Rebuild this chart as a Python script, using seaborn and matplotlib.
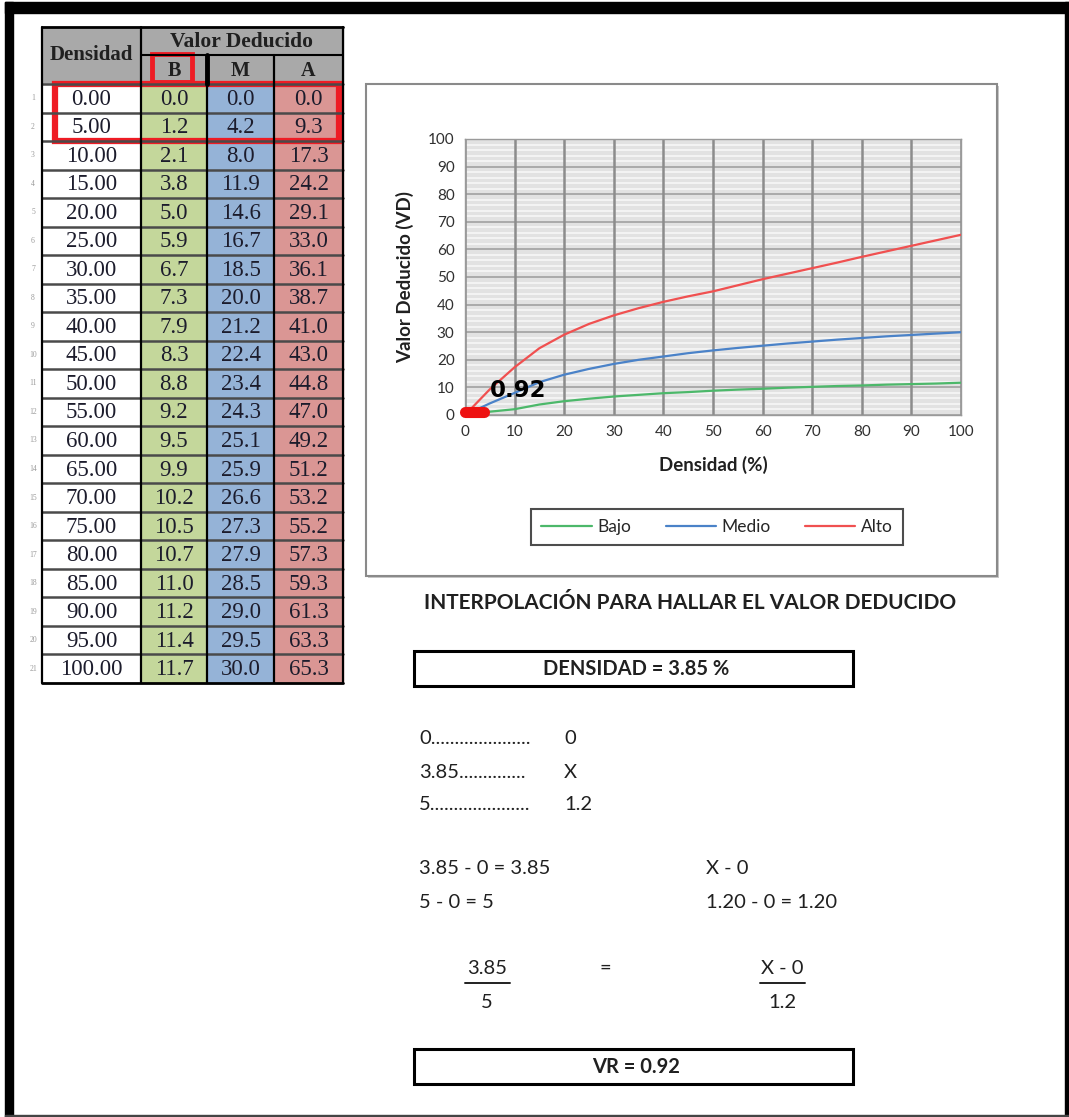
import numpy as np
import pandas as pd
import matplotlib
matplotlib.use("Agg")
import matplotlib.pyplot as plt
import seaborn as sns
from matplotlib.patches import Rectangle

# table / chart data
densidad = [0, 5, 10, 15, 20, 25, 30, 35, 40, 45, 50, 55, 60, 65, 70, 75, 80, 85, 90, 95, 100]
bajo = [0.0, 1.2, 2.1, 3.8, 5.0, 5.9, 6.7, 7.3, 7.9, 8.3, 8.8, 9.2, 9.5, 9.9, 10.2, 10.5, 10.7, 11.0, 11.2, 11.4, 11.7]
medio = [0.0, 4.2, 8.0, 11.9, 14.6, 16.7, 18.5, 20.0, 21.2, 22.4, 23.4, 24.3, 25.1, 25.9, 26.6, 27.3, 27.9, 28.5, 29.0, 29.5, 30.0]
alto = [0.0, 9.3, 17.3, 24.2, 29.1, 33.0, 36.1, 38.7, 41.0, 43.0, 44.8, 47.0, 49.2, 51.2, 53.2, 55.2, 57.3, 59.3, 61.3, 63.3, 65.3]
series_names = ["Bajo", "Medio", "Alto"]
series_colors = ["#4cb86a", "#4a82c8", "#f05050"]

# interpolation result
dens_input = 3.85
vr_value = 0.92
vr_x = [0, 3.85]
vr_y = [0.92, 0.92]

sns.set_style("white")
plt.rcParams['font.family'] = ['Lato', 'DejaVu Sans']

W, H = 1069, 1117
fig = plt.figure(figsize=(W / 100, H / 100), dpi=100)

# background axes in pixel coordinates
bg = fig.add_axes([0, 0, 1, 1], zorder=0)
bg.set_xlim(0, W)
bg.set_ylim(H, 0)
bg.axis("off")

# outer frame
bg.add_patch(Rectangle((5, 2), W - 5, 11, color="black"))
bg.add_patch(Rectangle((5, 2), 8, H - 2, color="black"))
bg.add_patch(Rectangle((W - 4, 2), 4, H - 2, color="black"))
bg.add_patch(Rectangle((5, H - 2), W - 5, 2, color="#444444"))

# ---- table ----
col_x = [42, 141, 207, 274, 343]
col_fill = ["white", "#c4d79b", "#95b3d7", "#da9694"]
top, mid, hbot = 27, 55, 84
row_h = 28.52
serif = "Liberation Serif"
header_grey = "#a9a9a9"

bg.add_patch(Rectangle((col_x[0], top), col_x[4] - col_x[0], hbot - top, color=header_grey))
for i, d in enumerate(densidad):
    y0 = hbot + i * row_h
    vals = [f"{d:.2f}", f"{bajo[i]:.1f}", f"{medio[i]:.1f}", f"{alto[i]:.1f}"]
    for c in range(4):
        bg.add_patch(Rectangle((col_x[c], y0), col_x[c + 1] - col_x[c], row_h, color=col_fill[c]))
        bg.text((col_x[c] + col_x[c + 1]) / 2, y0 + row_h / 2 + 1, vals[c], ha="center", va="center",
                fontsize=16.5, family=serif, color="#1c1c2c")
    bg.text(33, y0 + row_h / 2, str(i + 1), ha="center", va="center", fontsize=5.5, family=serif, color="#9a9a9a")
    bg.plot([col_x[0], col_x[4]], [y0, y0], color="#4a4a4a", lw=1.8)
bot = hbot + len(densidad) * row_h
bg.plot([col_x[0], col_x[4]], [bot, bot], color="black", lw=2)
bg.plot([col_x[0], col_x[4]], [top, top], color="black", lw=2)
bg.plot([col_x[1], col_x[4]], [mid, mid], color="black", lw=1.5)
for c, xx in enumerate(col_x):
    bg.plot([xx, xx], [top if c in (0, 1, 4) else mid, bot], color="black", lw=1.6)
bg.plot([col_x[2], col_x[2]], [mid, hbot], color="black", lw=3.5)

bg.text((col_x[0] + col_x[1]) / 2, (top + hbot) / 2, "Densidad", ha="center", va="center",
        fontsize=15, family=serif, weight="bold", color="#202020")
bg.text((col_x[1] + col_x[4]) / 2, (top + mid) / 2 + 1, "Valor Deducido", ha="center", va="center",
        fontsize=15.5, family=serif, weight="bold", color="#202020")
for c, lab in zip(range(1, 4), ["B", "M", "A"]):
    bg.text((col_x[c] + col_x[c + 1]) / 2, (mid + hbot) / 2 + 1, lab, ha="center", va="center",
            fontsize=14.5, family=serif, weight="bold", color="#202020")

# red highlight boxes
bg.add_patch(Rectangle((152, 54), 40, 28, fill=False, edgecolor="#ee1c24", lw=3.5))
bg.add_patch(Rectangle((55, 84), 284, 57, fill=False, edgecolor="#ee1c24", lw=4.5))

# ---- chart box ----
bg.add_patch(Rectangle((368, 86), 631, 492, facecolor="#c8c8c8", edgecolor="none"))
bg.add_patch(Rectangle((366, 84), 631, 492, facecolor="white", edgecolor="#8a8a8a", lw=1.5))

ax = fig.add_axes([465 / W, 1 - 415 / H, 496 / W, 276 / H], zorder=2)
ax.set_facecolor("#e2e2e2")

long_df = pd.DataFrame({
    "Densidad": densidad * 3,
    "VD": bajo + medio + alto,
    "Serie": sum([[n] * len(densidad) for n in series_names], []),
})
sns.lineplot(data=long_df, x="Densidad", y="VD", hue="Serie", palette=series_colors,
             hue_order=series_names, lw=1.6, ax=ax, legend=False, zorder=5)

ax.plot(vr_x, vr_y, color="#ee1111", lw=8, solid_capstyle="round", zorder=6, clip_on=False)
ax.text(5, 8.8, f"{vr_value:.2f}", fontsize=16.5, weight="bold", family="DejaVu Sans",
        color="black", va="center", zorder=7)

ax.set_xlim(0, 100)
ax.set_ylim(0, 100)
ax.set_xticks(range(0, 101, 10))
ax.set_yticks(range(0, 101, 10))
ax.set_yticks(np.arange(0, 101, 2), minor=True)
ax.grid(which="minor", axis="y", color="#f7f7f7", lw=1.2)
ax.grid(which="major", axis="y", color="#a6a6a6", lw=1.3)
ax.grid(which="major", axis="x", color="#8c8c8c", lw=1.8)
# vertical grid above the horizontal stripes
ax.yaxis.set_zorder(0.6)
ax.xaxis.set_zorder(0.9)
for s in ax.spines.values():
    s.set_color("#9a9a9a")
    s.set_linewidth(1)
ax.tick_params(axis="both", which="major", length=4, color="#8c8c8c", labelsize=11,
               labelcolor="#303030", direction="out")
ax.tick_params(axis="y", which="minor", length=0)
ax.set_xlabel("Densidad (%)", fontsize=13.5, weight="bold", color="#202020", labelpad=12)
ax.set_ylabel("Valor Deducido (VD)", fontsize=13.5, weight="bold", color="#202020", labelpad=10)

handles = [plt.Line2D([], [], color=c, lw=1.6) for c in series_colors]
leg = fig.legend(handles, series_names, loc="center", bbox_to_anchor=(717 / W, 1 - 527 / H),
                 ncol=3, frameon=True, fancybox=False, fontsize=12.5, handlelength=2.9,
                 handletextpad=0.3, columnspacing=2.0, borderpad=0.6, borderaxespad=0)
leg.get_frame().set_edgecolor("#202020")
leg.get_frame().set_linewidth(1.5)

# ---- interpolation text ----
txt = "#202020"
bg.text(690, 603, "INTERPOLACIÓN PARA HALLAR EL VALOR DEDUCIDO", ha="center", va="center",
        fontsize=15, weight="bold", color=txt)

for yb, label in [(651, f"DENSIDAD = {dens_input:.2f} %"), (1049, f"VR = {vr_value:.2f}")]:
    bg.add_patch(Rectangle((414, yb), 439, 35, fill=False, edgecolor="black", lw=2.2))
    bg.text(636, yb + 18, label, ha="center", va="center", fontsize=14.5, weight="bold", color=txt)

fs = 14.5
bg.text(419, 739, "0.....................", va="center", fontsize=fs, color=txt)
bg.text(564, 739, "0", va="center", fontsize=fs, color=txt)
bg.text(419, 772, "3.85..............", va="center", fontsize=fs, color=txt)
bg.text(564, 772, "X", va="center", fontsize=fs, color=txt)
bg.text(419, 804, "5.....................", va="center", fontsize=fs, color=txt)
bg.text(564, 804, f"{bajo[1]:.1f}", va="center", fontsize=fs, color=txt)

bg.text(419, 869, "3.85 - 0 = 3.85", va="center", fontsize=fs, color=txt)
bg.text(706, 869, "X - 0", va="center", fontsize=fs, color=txt)
bg.text(419, 902, "5 - 0 = 5", va="center", fontsize=fs, color=txt)
bg.text(706, 902, "1.20 - 0 = 1.20", va="center", fontsize=fs, color=txt)

bg.text(487, 968, "3.85", ha="center", va="center", fontsize=fs, color=txt)
bg.plot([465, 510], [983, 983], color=txt, lw=1.4)
bg.text(487, 1002, "5", ha="center", va="center", fontsize=fs, color=txt)
bg.text(605, 968, "=", ha="center", va="center", fontsize=fs, color=txt)
bg.text(782, 968, "X - 0", ha="center", va="center", fontsize=fs, color=txt)
bg.plot([760, 805], [983, 983], color=txt, lw=1.4)
bg.text(782, 1002, "1.2", ha="center", va="center", fontsize=fs, color=txt)

fig.savefig("out.png", dpi=100)
